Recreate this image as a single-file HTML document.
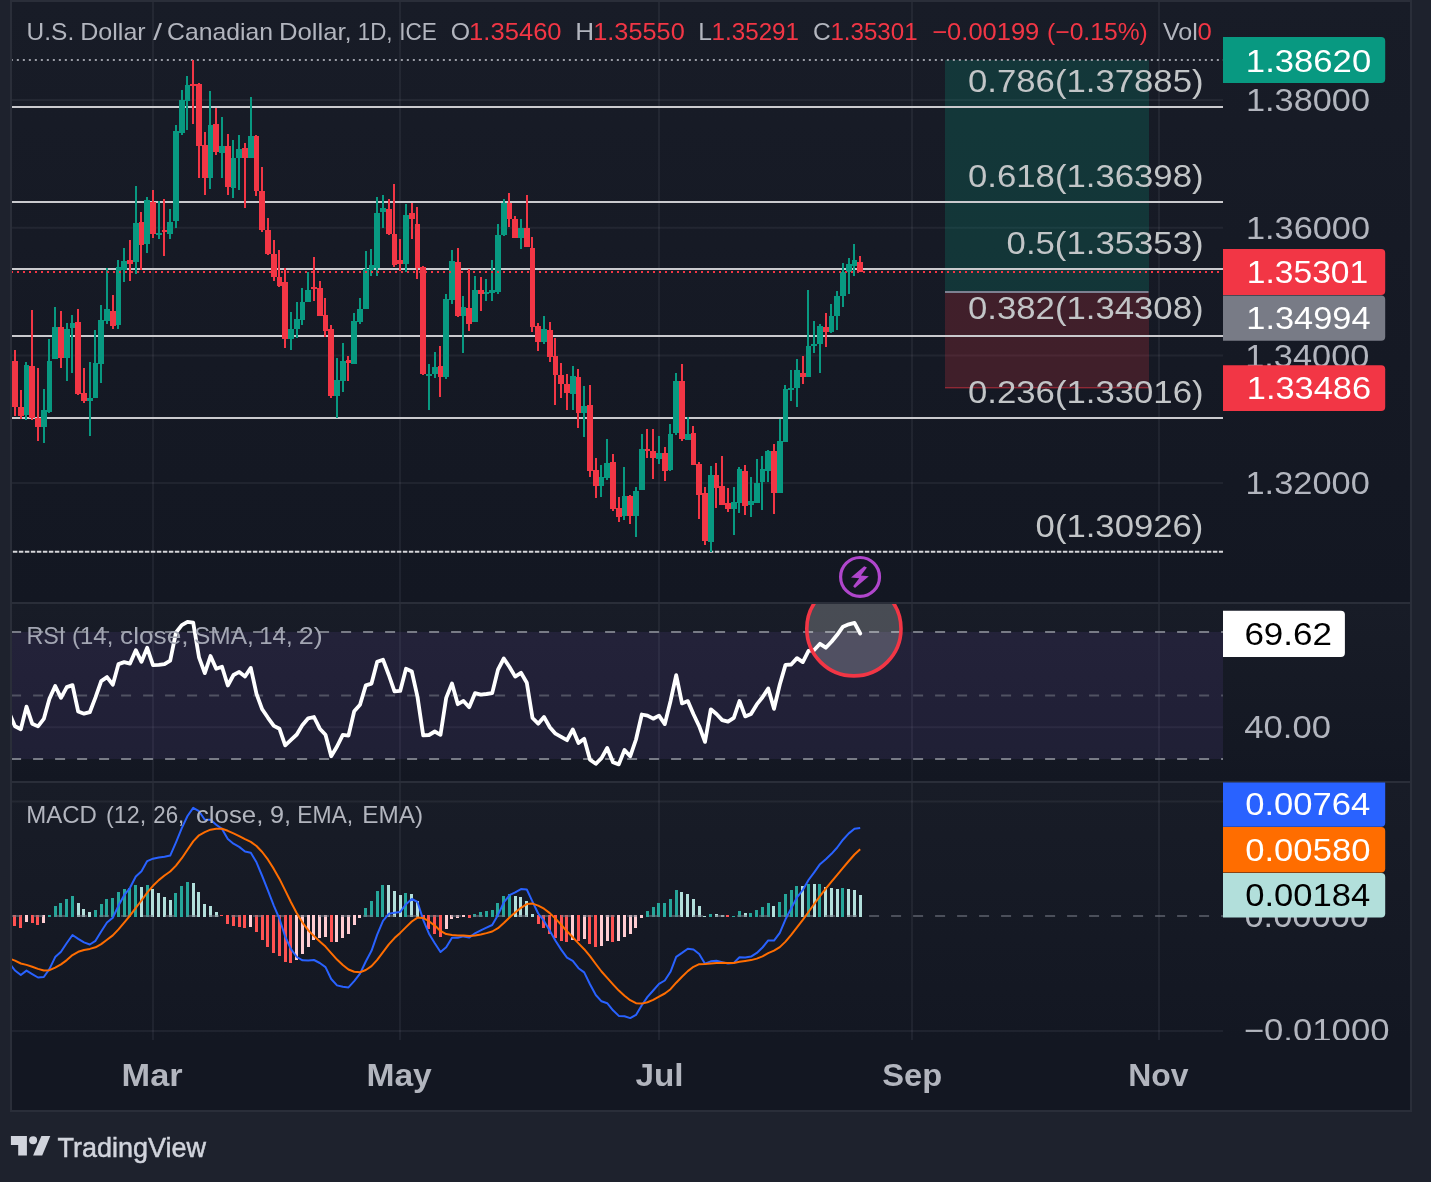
<!DOCTYPE html>
<html lang="en"><head><meta charset="utf-8"><title>USDCAD chart</title>
<style>html,body{margin:0;padding:0;background:#1e222d;}body{width:1431px;height:1182px;overflow:hidden;font-family:"Liberation Sans",sans-serif;}svg{display:block}</style>
</head><body>
<svg width="1431" height="1182" viewBox="0 0 1431 1182" font-family="Liberation Sans, sans-serif" style="will-change:transform">
<defs>
<clipPath id="cpP"><rect x="12" y="2" width="1211" height="600"/></clipPath>
<clipPath id="cpR"><rect x="12" y="604" width="1211" height="177"/></clipPath>
<clipPath id="cpM"><rect x="12" y="783" width="1211" height="257"/></clipPath>
<clipPath id="cpMA"><rect x="1223" y="783" width="187" height="257"/></clipPath>
<linearGradient id="gP" gradientUnits="userSpaceOnUse" x1="0" y1="2" x2="0" y2="602"><stop offset="0" stop-color="#181c27"/><stop offset="1" stop-color="#131722"/></linearGradient>
<linearGradient id="gR" gradientUnits="userSpaceOnUse" x1="0" y1="604" x2="0" y2="781"><stop offset="0" stop-color="#181c27"/><stop offset="1" stop-color="#131722"/></linearGradient>
<linearGradient id="gM" gradientUnits="userSpaceOnUse" x1="0" y1="783" x2="0" y2="1040"><stop offset="0" stop-color="#181c27"/><stop offset="1" stop-color="#131722"/></linearGradient>
</defs>
<rect width="1431" height="1182" fill="#1e222d"/>
<rect x="10" y="0" width="1402" height="1112" fill="#2a2e39"/>
<rect x="12" y="2" width="1398" height="1108" fill="#131722"/>
<rect x="12" y="2" width="1398" height="600" fill="url(#gP)"/>
<rect x="12" y="604" width="1398" height="177" fill="url(#gR)"/>
<rect x="12" y="783" width="1398" height="257" fill="url(#gM)"/>
<g stroke="#f0f3fa" stroke-opacity="0.06" stroke-width="2">
<line x1="153" y1="2" x2="153" y2="1040"/>
<line x1="400" y1="2" x2="400" y2="1040"/>
<line x1="659" y1="2" x2="659" y2="1040"/>
<line x1="912" y1="2" x2="912" y2="1040"/>
<line x1="1159" y1="2" x2="1159" y2="1040"/>
<line x1="12" y1="100" x2="1223" y2="100"/>
<line x1="12" y1="227.7" x2="1223" y2="227.7"/>
<line x1="12" y1="355.5" x2="1223" y2="355.5"/>
<line x1="12" y1="483" x2="1223" y2="483"/>
<line x1="12" y1="727.3" x2="1223" y2="727.3"/>
<line x1="12" y1="801.5" x2="1223" y2="801.5"/>
<line x1="12" y1="1031" x2="1223" y2="1031"/>
</g>
<rect x="12" y="602" width="1398" height="2" fill="#2a2e39"/>
<rect x="12" y="781" width="1398" height="2" fill="#2a2e39"/>
<g clip-path="url(#cpP)">
<rect x="945" y="60" width="204" height="231.8" fill="#089981" fill-opacity="0.22"/>
<rect x="945" y="291.8" width="204" height="96.2" fill="#f23645" fill-opacity="0.2"/>
<rect x="945" y="291" width="203.5" height="2" fill="#7d8091"/>
<rect x="945" y="387.2" width="204" height="1.2" fill="#f23645" fill-opacity="0.55"/>
<rect x="12" y="106" width="1211" height="2" fill="#cacace"/>
<rect x="12" y="201" width="1211" height="2" fill="#cacace"/>
<rect x="12" y="268" width="1211" height="2" fill="#cacace"/>
<rect x="12" y="335" width="1211" height="2" fill="#cacace"/>
<rect x="12" y="417" width="1211" height="2" fill="#cacace"/>
<line x1="12" y1="60" x2="1223" y2="60" stroke="#9a9da6" stroke-width="2" stroke-dasharray="2 4" stroke-dashoffset="1.15"/>
<line x1="12" y1="551.7" x2="1223" y2="551.7" stroke="#d6d6da" stroke-width="2" stroke-dasharray="4.5 1.5" stroke-dashoffset="-0.84"/>
<rect x="14" y="350" width="2" height="66" fill="#f23645"/><rect x="12" y="361" width="6" height="46" fill="#f23645"/>
<rect x="20" y="390" width="2" height="29" fill="#f23645"/><rect x="18" y="407" width="6" height="9" fill="#f23645"/>
<rect x="25" y="362" width="2" height="58" fill="#089981"/><rect x="24" y="365" width="5" height="50" fill="#089981"/>
<rect x="31" y="310" width="2" height="110" fill="#f23645"/><rect x="29" y="366" width="6" height="52" fill="#f23645"/>
<rect x="37" y="368" width="2" height="73" fill="#f23645"/><rect x="35" y="418" width="6" height="9" fill="#f23645"/>
<rect x="43" y="389" width="2" height="54" fill="#089981"/><rect x="41" y="410" width="6" height="17" fill="#089981"/>
<rect x="48" y="339" width="2" height="74" fill="#089981"/><rect x="47" y="361" width="5" height="51" fill="#089981"/>
<rect x="54" y="307" width="2" height="52" fill="#089981"/><rect x="52" y="327" width="6" height="32" fill="#089981"/>
<rect x="60" y="311" width="2" height="57" fill="#f23645"/><rect x="58" y="327" width="6" height="31" fill="#f23645"/>
<rect x="66" y="323" width="2" height="58" fill="#089981"/><rect x="64" y="329" width="6" height="29" fill="#089981"/>
<rect x="71" y="315" width="2" height="58" fill="#089981"/><rect x="70" y="323" width="5" height="5" fill="#089981"/>
<rect x="77" y="309" width="2" height="86" fill="#f23645"/><rect x="75" y="322" width="6" height="72" fill="#f23645"/>
<rect x="83" y="368" width="2" height="35" fill="#f23645"/><rect x="81" y="393" width="6" height="8" fill="#f23645"/>
<rect x="89" y="362" width="2" height="74" fill="#089981"/><rect x="87" y="398" width="6" height="3" fill="#089981"/>
<rect x="94" y="330" width="2" height="68" fill="#089981"/><rect x="93" y="363" width="5" height="35" fill="#089981"/>
<rect x="100" y="305" width="2" height="78" fill="#089981"/><rect x="98" y="320" width="6" height="44" fill="#089981"/>
<rect x="106" y="268" width="2" height="56" fill="#089981"/><rect x="104" y="309" width="6" height="12" fill="#089981"/>
<rect x="112" y="295" width="2" height="34" fill="#f23645"/><rect x="110" y="311" width="6" height="15" fill="#f23645"/>
<rect x="117" y="260" width="2" height="69" fill="#089981"/><rect x="116" y="267" width="5" height="58" fill="#089981"/>
<rect x="123" y="248" width="2" height="34" fill="#089981"/><rect x="121" y="261" width="6" height="9" fill="#089981"/>
<rect x="129" y="240" width="2" height="41" fill="#f23645"/><rect x="127" y="260" width="6" height="4" fill="#f23645"/>
<rect x="135" y="186" width="2" height="88" fill="#089981"/><rect x="133" y="223" width="6" height="39" fill="#089981"/>
<rect x="140" y="212" width="2" height="58" fill="#f23645"/><rect x="139" y="222" width="5" height="23" fill="#f23645"/>
<rect x="146" y="197" width="2" height="56" fill="#089981"/><rect x="144" y="200" width="6" height="44" fill="#089981"/>
<rect x="152" y="190" width="2" height="48" fill="#f23645"/><rect x="150" y="202" width="6" height="32" fill="#f23645"/>
<rect x="158" y="201" width="2" height="38" fill="#089981"/><rect x="156" y="233" width="6" height="2" fill="#089981"/>
<rect x="163" y="199" width="2" height="57" fill="#f23645"/><rect x="162" y="230" width="5" height="2" fill="#f23645"/>
<rect x="169" y="209" width="2" height="30" fill="#089981"/><rect x="167" y="222" width="6" height="12" fill="#089981"/>
<rect x="175" y="125" width="2" height="103" fill="#089981"/><rect x="173" y="131" width="6" height="90" fill="#089981"/>
<rect x="181" y="90" width="2" height="45" fill="#089981"/><rect x="179" y="100" width="6" height="33" fill="#089981"/>
<rect x="186" y="76" width="2" height="54" fill="#089981"/><rect x="185" y="85" width="5" height="16" fill="#089981"/>
<rect x="192" y="60" width="2" height="64" fill="#f23645"/><rect x="190" y="84" width="6" height="2" fill="#f23645"/>
<rect x="198" y="83" width="2" height="95" fill="#f23645"/><rect x="196" y="84" width="6" height="62" fill="#f23645"/>
<rect x="204" y="132" width="2" height="63" fill="#f23645"/><rect x="202" y="145" width="6" height="33" fill="#f23645"/>
<rect x="209" y="91" width="2" height="98" fill="#089981"/><rect x="208" y="125" width="5" height="53" fill="#089981"/>
<rect x="215" y="108" width="2" height="47" fill="#f23645"/><rect x="213" y="124" width="6" height="28" fill="#f23645"/>
<rect x="221" y="117" width="2" height="61" fill="#089981"/><rect x="219" y="146" width="6" height="7" fill="#089981"/>
<rect x="227" y="134" width="2" height="61" fill="#f23645"/><rect x="225" y="146" width="6" height="41" fill="#f23645"/>
<rect x="232" y="140" width="2" height="58" fill="#089981"/><rect x="231" y="158" width="5" height="30" fill="#089981"/>
<rect x="238" y="135" width="2" height="55" fill="#089981"/><rect x="236" y="149" width="6" height="9" fill="#089981"/>
<rect x="244" y="143" width="2" height="65" fill="#f23645"/><rect x="242" y="148" width="6" height="10" fill="#f23645"/>
<rect x="250" y="97" width="2" height="61" fill="#089981"/><rect x="248" y="136" width="6" height="22" fill="#089981"/>
<rect x="255" y="135" width="2" height="61" fill="#f23645"/><rect x="254" y="136" width="5" height="55" fill="#f23645"/>
<rect x="261" y="167" width="2" height="65" fill="#f23645"/><rect x="259" y="191" width="6" height="39" fill="#f23645"/>
<rect x="267" y="218" width="2" height="37" fill="#f23645"/><rect x="265" y="230" width="6" height="24" fill="#f23645"/>
<rect x="273" y="240" width="2" height="41" fill="#f23645"/><rect x="271" y="254" width="6" height="23" fill="#f23645"/>
<rect x="278" y="250" width="2" height="37" fill="#f23645"/><rect x="277" y="277" width="5" height="9" fill="#f23645"/>
<rect x="284" y="268" width="2" height="80" fill="#f23645"/><rect x="282" y="282" width="6" height="57" fill="#f23645"/>
<rect x="290" y="312" width="2" height="38" fill="#089981"/><rect x="288" y="329" width="6" height="10" fill="#089981"/>
<rect x="296" y="302" width="2" height="36" fill="#089981"/><rect x="294" y="319" width="6" height="10" fill="#089981"/>
<rect x="301" y="288" width="2" height="37" fill="#089981"/><rect x="300" y="302" width="5" height="18" fill="#089981"/>
<rect x="307" y="272" width="2" height="30" fill="#089981"/><rect x="305" y="290" width="6" height="12" fill="#089981"/>
<rect x="313" y="257" width="2" height="44" fill="#f23645"/><rect x="311" y="287" width="6" height="2" fill="#f23645"/>
<rect x="319" y="281" width="2" height="35" fill="#f23645"/><rect x="317" y="288" width="6" height="28" fill="#f23645"/>
<rect x="324" y="298" width="2" height="39" fill="#f23645"/><rect x="323" y="315" width="5" height="16" fill="#f23645"/>
<rect x="330" y="325" width="2" height="73" fill="#f23645"/><rect x="328" y="329" width="6" height="67" fill="#f23645"/>
<rect x="336" y="358" width="2" height="60" fill="#089981"/><rect x="334" y="380" width="6" height="16" fill="#089981"/>
<rect x="342" y="343" width="2" height="49" fill="#089981"/><rect x="340" y="361" width="6" height="20" fill="#089981"/>
<rect x="347" y="356" width="2" height="25" fill="#f23645"/><rect x="346" y="360" width="5" height="3" fill="#f23645"/>
<rect x="353" y="313" width="2" height="51" fill="#089981"/><rect x="351" y="321" width="6" height="43" fill="#089981"/>
<rect x="359" y="298" width="2" height="26" fill="#089981"/><rect x="357" y="309" width="6" height="13" fill="#089981"/>
<rect x="365" y="251" width="2" height="58" fill="#089981"/><rect x="363" y="269" width="6" height="40" fill="#089981"/>
<rect x="370" y="249" width="2" height="27" fill="#089981"/><rect x="369" y="265" width="5" height="5" fill="#089981"/>
<rect x="376" y="197" width="2" height="79" fill="#089981"/><rect x="374" y="213" width="6" height="55" fill="#089981"/>
<rect x="382" y="195" width="2" height="33" fill="#089981"/><rect x="380" y="208" width="6" height="4" fill="#089981"/>
<rect x="388" y="199" width="2" height="36" fill="#f23645"/><rect x="386" y="209" width="6" height="25" fill="#f23645"/>
<rect x="393" y="184" width="2" height="83" fill="#f23645"/><rect x="392" y="234" width="5" height="31" fill="#f23645"/>
<rect x="399" y="239" width="2" height="32" fill="#f23645"/><rect x="397" y="260" width="6" height="4" fill="#f23645"/>
<rect x="405" y="204" width="2" height="68" fill="#089981"/><rect x="403" y="215" width="6" height="49" fill="#089981"/>
<rect x="411" y="203" width="2" height="36" fill="#f23645"/><rect x="409" y="213" width="6" height="6" fill="#f23645"/>
<rect x="416" y="207" width="2" height="72" fill="#f23645"/><rect x="415" y="224" width="5" height="44" fill="#f23645"/>
<rect x="422" y="266" width="2" height="109" fill="#f23645"/><rect x="420" y="267" width="6" height="107" fill="#f23645"/>
<rect x="428" y="364" width="2" height="46" fill="#089981"/><rect x="426" y="374" width="6" height="2" fill="#089981"/>
<rect x="434" y="352" width="2" height="26" fill="#089981"/><rect x="432" y="367" width="6" height="7" fill="#089981"/>
<rect x="439" y="346" width="2" height="51" fill="#f23645"/><rect x="438" y="366" width="5" height="11" fill="#f23645"/>
<rect x="445" y="294" width="2" height="85" fill="#089981"/><rect x="443" y="299" width="6" height="78" fill="#089981"/>
<rect x="451" y="250" width="2" height="54" fill="#089981"/><rect x="449" y="261" width="6" height="39" fill="#089981"/>
<rect x="457" y="248" width="2" height="69" fill="#f23645"/><rect x="455" y="262" width="6" height="54" fill="#f23645"/>
<rect x="462" y="296" width="2" height="57" fill="#089981"/><rect x="461" y="307" width="5" height="9" fill="#089981"/>
<rect x="468" y="269" width="2" height="62" fill="#f23645"/><rect x="466" y="308" width="6" height="16" fill="#f23645"/>
<rect x="474" y="276" width="2" height="46" fill="#089981"/><rect x="472" y="290" width="6" height="32" fill="#089981"/>
<rect x="480" y="277" width="2" height="34" fill="#f23645"/><rect x="478" y="290" width="6" height="4" fill="#f23645"/>
<rect x="485" y="279" width="2" height="22" fill="#089981"/><rect x="484" y="292" width="5" height="2" fill="#089981"/>
<rect x="491" y="260" width="2" height="41" fill="#089981"/><rect x="489" y="290" width="6" height="3" fill="#089981"/>
<rect x="497" y="224" width="2" height="70" fill="#089981"/><rect x="495" y="235" width="6" height="57" fill="#089981"/>
<rect x="503" y="199" width="2" height="37" fill="#089981"/><rect x="501" y="203" width="6" height="32" fill="#089981"/>
<rect x="508" y="193" width="2" height="34" fill="#f23645"/><rect x="507" y="203" width="5" height="16" fill="#f23645"/>
<rect x="514" y="216" width="2" height="22" fill="#f23645"/><rect x="512" y="219" width="6" height="19" fill="#f23645"/>
<rect x="520" y="219" width="2" height="30" fill="#089981"/><rect x="518" y="228" width="6" height="10" fill="#089981"/>
<rect x="526" y="195" width="2" height="52" fill="#f23645"/><rect x="524" y="228" width="6" height="19" fill="#f23645"/>
<rect x="531" y="237" width="2" height="95" fill="#f23645"/><rect x="530" y="248" width="5" height="79" fill="#f23645"/>
<rect x="537" y="323" width="2" height="28" fill="#f23645"/><rect x="535" y="326" width="6" height="16" fill="#f23645"/>
<rect x="543" y="316" width="2" height="28" fill="#089981"/><rect x="541" y="329" width="6" height="13" fill="#089981"/>
<rect x="549" y="322" width="2" height="40" fill="#f23645"/><rect x="547" y="330" width="6" height="27" fill="#f23645"/>
<rect x="554" y="338" width="2" height="67" fill="#f23645"/><rect x="553" y="356" width="5" height="19" fill="#f23645"/>
<rect x="560" y="363" width="2" height="35" fill="#f23645"/><rect x="558" y="375" width="6" height="9" fill="#f23645"/>
<rect x="566" y="374" width="2" height="36" fill="#f23645"/><rect x="564" y="384" width="6" height="9" fill="#f23645"/>
<rect x="572" y="366" width="2" height="44" fill="#089981"/><rect x="570" y="376" width="6" height="18" fill="#089981"/>
<rect x="577" y="369" width="2" height="59" fill="#f23645"/><rect x="576" y="377" width="5" height="36" fill="#f23645"/>
<rect x="583" y="386" width="2" height="51" fill="#089981"/><rect x="581" y="406" width="6" height="7" fill="#089981"/>
<rect x="589" y="385" width="2" height="92" fill="#f23645"/><rect x="587" y="405" width="6" height="66" fill="#f23645"/>
<rect x="595" y="458" width="2" height="40" fill="#f23645"/><rect x="593" y="470" width="6" height="16" fill="#f23645"/>
<rect x="600" y="465" width="2" height="32" fill="#089981"/><rect x="599" y="477" width="5" height="9" fill="#089981"/>
<rect x="606" y="439" width="2" height="41" fill="#089981"/><rect x="604" y="463" width="6" height="15" fill="#089981"/>
<rect x="612" y="454" width="2" height="57" fill="#f23645"/><rect x="610" y="462" width="6" height="47" fill="#f23645"/>
<rect x="618" y="497" width="2" height="25" fill="#f23645"/><rect x="616" y="508" width="6" height="9" fill="#f23645"/>
<rect x="623" y="467" width="2" height="53" fill="#089981"/><rect x="622" y="496" width="5" height="20" fill="#089981"/>
<rect x="629" y="495" width="2" height="29" fill="#f23645"/><rect x="627" y="496" width="6" height="20" fill="#f23645"/>
<rect x="635" y="487" width="2" height="50" fill="#089981"/><rect x="633" y="491" width="6" height="25" fill="#089981"/>
<rect x="641" y="434" width="2" height="56" fill="#089981"/><rect x="639" y="449" width="6" height="41" fill="#089981"/>
<rect x="646" y="429" width="2" height="29" fill="#f23645"/><rect x="645" y="449" width="5" height="2" fill="#f23645"/>
<rect x="652" y="429" width="2" height="50" fill="#f23645"/><rect x="650" y="451" width="6" height="7" fill="#f23645"/>
<rect x="658" y="436" width="2" height="28" fill="#089981"/><rect x="656" y="453" width="6" height="6" fill="#089981"/>
<rect x="664" y="447" width="2" height="34" fill="#f23645"/><rect x="662" y="453" width="6" height="18" fill="#f23645"/>
<rect x="669" y="424" width="2" height="47" fill="#089981"/><rect x="668" y="434" width="5" height="36" fill="#089981"/>
<rect x="675" y="373" width="2" height="62" fill="#089981"/><rect x="673" y="381" width="6" height="52" fill="#089981"/>
<rect x="681" y="364" width="2" height="77" fill="#f23645"/><rect x="679" y="381" width="6" height="58" fill="#f23645"/>
<rect x="687" y="417" width="2" height="23" fill="#089981"/><rect x="685" y="434" width="6" height="6" fill="#089981"/>
<rect x="692" y="426" width="2" height="39" fill="#f23645"/><rect x="691" y="433" width="5" height="32" fill="#f23645"/>
<rect x="698" y="462" width="2" height="57" fill="#f23645"/><rect x="696" y="464" width="6" height="31" fill="#f23645"/>
<rect x="704" y="487" width="2" height="58" fill="#f23645"/><rect x="702" y="493" width="6" height="48" fill="#f23645"/>
<rect x="710" y="466" width="2" height="86" fill="#089981"/><rect x="708" y="475" width="6" height="67" fill="#089981"/>
<rect x="715" y="463" width="2" height="45" fill="#f23645"/><rect x="714" y="475" width="5" height="13" fill="#f23645"/>
<rect x="721" y="456" width="2" height="49" fill="#f23645"/><rect x="719" y="486" width="6" height="19" fill="#f23645"/>
<rect x="727" y="488" width="2" height="24" fill="#f23645"/><rect x="725" y="503" width="6" height="6" fill="#f23645"/>
<rect x="733" y="487" width="2" height="48" fill="#089981"/><rect x="731" y="502" width="6" height="7" fill="#089981"/>
<rect x="738" y="467" width="2" height="46" fill="#089981"/><rect x="737" y="469" width="5" height="34" fill="#089981"/>
<rect x="744" y="465" width="2" height="50" fill="#f23645"/><rect x="742" y="471" width="6" height="35" fill="#f23645"/>
<rect x="750" y="477" width="2" height="40" fill="#089981"/><rect x="748" y="501" width="6" height="4" fill="#089981"/>
<rect x="756" y="459" width="2" height="44" fill="#089981"/><rect x="754" y="483" width="6" height="20" fill="#089981"/>
<rect x="761" y="456" width="2" height="54" fill="#089981"/><rect x="760" y="469" width="5" height="13" fill="#089981"/>
<rect x="767" y="450" width="2" height="32" fill="#089981"/><rect x="765" y="451" width="6" height="20" fill="#089981"/>
<rect x="773" y="444" width="2" height="70" fill="#f23645"/><rect x="771" y="451" width="6" height="42" fill="#f23645"/>
<rect x="779" y="419" width="2" height="74" fill="#089981"/><rect x="777" y="441" width="6" height="52" fill="#089981"/>
<rect x="784" y="385" width="2" height="57" fill="#089981"/><rect x="783" y="389" width="5" height="53" fill="#089981"/>
<rect x="790" y="370" width="2" height="31" fill="#089981"/><rect x="788" y="388" width="6" height="2" fill="#089981"/>
<rect x="796" y="359" width="2" height="48" fill="#089981"/><rect x="794" y="370" width="6" height="18" fill="#089981"/>
<rect x="802" y="356" width="2" height="28" fill="#f23645"/><rect x="800" y="373" width="6" height="4" fill="#f23645"/>
<rect x="807" y="290" width="2" height="87" fill="#089981"/><rect x="806" y="346" width="5" height="31" fill="#089981"/>
<rect x="813" y="321" width="2" height="32" fill="#089981"/><rect x="811" y="344" width="6" height="2" fill="#089981"/>
<rect x="819" y="324" width="2" height="49" fill="#089981"/><rect x="817" y="326" width="6" height="18" fill="#089981"/>
<rect x="825" y="313" width="2" height="34" fill="#f23645"/><rect x="823" y="327" width="6" height="5" fill="#f23645"/>
<rect x="830" y="304" width="2" height="29" fill="#089981"/><rect x="829" y="316" width="5" height="16" fill="#089981"/>
<rect x="836" y="291" width="2" height="39" fill="#089981"/><rect x="834" y="296" width="6" height="20" fill="#089981"/>
<rect x="842" y="263" width="2" height="44" fill="#089981"/><rect x="840" y="272" width="6" height="24" fill="#089981"/>
<rect x="848" y="258" width="2" height="36" fill="#089981"/><rect x="846" y="264" width="6" height="8" fill="#089981"/>
<rect x="853" y="244" width="2" height="32" fill="#089981"/><rect x="852" y="260" width="5" height="6" fill="#089981"/>
<rect x="859" y="256" width="2" height="16" fill="#f23645"/><rect x="857" y="262" width="6" height="10" fill="#f23645"/>
<line x1="12" y1="272" x2="1223" y2="272" stroke="#f23645" stroke-width="2" stroke-dasharray="2 4" stroke-dashoffset="1"/>
<text x="968.0" y="92.3" font-size="31" fill="#c2c5c7" textLength="235.51" lengthAdjust="spacingAndGlyphs">0.786(1.37885)</text>
<text x="968.0" y="187.1" font-size="31" fill="#c2c5c7" textLength="235.51" lengthAdjust="spacingAndGlyphs">0.618(1.36398)</text>
<text x="1006.6" y="253.8" font-size="31" fill="#c2c5c7" textLength="196.93" lengthAdjust="spacingAndGlyphs">0.5(1.35353)</text>
<text x="968.0" y="319.2" font-size="31" fill="#c2c5c7" textLength="235.51" lengthAdjust="spacingAndGlyphs">0.382(1.34308)</text>
<text x="968.0" y="403" font-size="31" fill="#c2c5c7" textLength="235.51" lengthAdjust="spacingAndGlyphs">0.236(1.33016)</text>
<text x="1035.6" y="537.1" font-size="31" fill="#c2c5c7" textLength="167.81" lengthAdjust="spacingAndGlyphs">0(1.30926)</text>
<circle cx="860.05" cy="576.95" r="19.45" fill="none" stroke="#b046cc" stroke-width="3.2"/>
<polygon fill="#b046cc" points="864.20,566.15 866.95,567.55 860.90,575.45 868.85,576.20 854.95,588.05 853.15,586.35 859.20,578.30 851.00,577.45"/>
</g>
<g clip-path="url(#cpR)">
<rect x="12" y="631.9" width="1211" height="127.1" fill="#7e57c2" fill-opacity="0.12"/>
<line x1="12" y1="631.9" x2="1223" y2="631.9" stroke="#787b86" stroke-width="2" stroke-dasharray="10 12" stroke-dashoffset="0.9"/>
<line x1="12" y1="695.5" x2="1223" y2="695.5" stroke="#787b86" stroke-width="2" stroke-opacity="0.55" stroke-dasharray="10 12" stroke-dashoffset="0.9"/>
<line x1="12" y1="759.0" x2="1223" y2="759.0" stroke="#787b86" stroke-width="2" stroke-dasharray="10 12" stroke-dashoffset="0.9"/>
</g>
<g clip-path="url(#cpR)">
<polyline points="9.2,712.9 15.0,726.3 20.8,729.2 26.5,706.6 32.2,723.7 38.0,726.4 43.8,718.9 49.5,698.6 55.2,686.0 61.0,697.8 66.8,687.1 72.5,685.1 78.2,711.5 84.0,713.7 89.8,712.2 95.5,697.4 101.2,681.1 107.0,677.1 112.8,684.7 118.5,664.1 124.2,662.1 130.0,663.6 135.8,650.2 141.5,661.8 147.2,647.8 153.0,665.2 158.8,664.9 164.5,664.2 170.2,660.7 176.0,632.5 181.8,625.1 187.5,621.8 193.2,622.6 199.0,657.3 204.8,673.1 210.5,656.0 216.2,668.8 222.0,666.8 227.8,685.5 233.5,675.0 239.2,671.9 245.0,676.5 250.8,667.9 256.5,693.9 262.2,709.3 268.0,717.8 273.8,725.9 279.5,728.8 285.2,745.4 291.0,739.9 296.8,734.5 302.5,724.9 308.2,718.3 314.0,717.0 319.8,728.7 325.5,734.8 331.2,756.2 337.0,746.5 342.8,734.9 348.5,735.6 354.2,711.2 360.0,704.7 365.8,685.4 371.5,683.6 377.2,661.8 383.0,659.7 388.8,675.0 394.5,691.4 400.2,690.9 406.0,668.8 411.8,671.5 417.5,696.9 423.2,735.4 429.0,735.0 434.8,731.5 440.5,734.8 446.2,697.9 452.0,683.4 457.8,704.2 463.5,700.9 469.2,707.2 475.0,693.2 480.8,694.7 486.5,694.0 492.2,693.1 498.0,669.6 503.8,658.5 509.5,667.0 515.2,676.6 521.0,672.8 526.8,682.8 532.5,718.0 538.2,723.7 544.0,716.9 549.8,727.2 555.5,733.7 561.2,736.8 567.0,740.2 572.8,729.5 578.5,743.1 584.2,738.8 590.0,759.7 595.8,763.8 601.5,758.1 607.2,748.0 613.0,762.2 618.8,764.4 624.5,749.9 630.2,756.3 636.0,739.5 641.8,714.5 647.5,715.6 653.2,718.7 659.0,715.6 664.8,724.1 670.5,701.2 676.2,675.2 682.0,703.4 687.8,701.1 693.5,714.3 699.2,726.2 705.0,741.9 710.8,709.3 716.5,714.0 722.2,720.1 728.0,721.7 733.8,717.9 739.5,701.0 745.2,716.4 751.0,714.0 756.8,704.4 762.5,697.3 768.2,688.4 774.0,708.8 779.8,684.5 785.5,664.9 791.2,664.5 797.0,658.1 802.8,662.1 808.5,650.9 814.2,650.0 820.0,643.8 825.8,647.7 831.5,641.8 837.2,634.8 843.0,626.7 848.8,624.3 854.5,622.9 860.2,633.5" fill="none" stroke="#fff" stroke-width="3.8" stroke-linejoin="round" stroke-linecap="round"/>
<circle cx="853.9" cy="628.8" r="47.1" fill="#fff" fill-opacity="0.21" stroke="#f23645" stroke-width="3.6"/>
</g>
<g clip-path="url(#cpM)">
<rect x="13" y="915" width="3" height="11" fill="#ff5252"/>
<rect x="19" y="915" width="3" height="13" fill="#ff5252"/>
<rect x="25" y="915" width="3" height="7" fill="#ffcdd2"/>
<rect x="31" y="915" width="3" height="8" fill="#ff5252"/>
<rect x="36" y="915" width="3" height="10" fill="#ff5252"/>
<rect x="42" y="915" width="3" height="8" fill="#ffcdd2"/>
<rect x="48" y="915" width="3" height="2" fill="#26a69a"/>
<rect x="54" y="906" width="3" height="11" fill="#26a69a"/>
<rect x="59" y="903" width="3" height="14" fill="#26a69a"/>
<rect x="65" y="899" width="3" height="18" fill="#26a69a"/>
<rect x="71" y="896" width="3" height="21" fill="#26a69a"/>
<rect x="77" y="903" width="3" height="14" fill="#b2dfdb"/>
<rect x="82" y="909" width="3" height="8" fill="#b2dfdb"/>
<rect x="88" y="912" width="3" height="5" fill="#b2dfdb"/>
<rect x="94" y="910" width="3" height="7" fill="#26a69a"/>
<rect x="100" y="904" width="3" height="13" fill="#26a69a"/>
<rect x="105" y="899" width="3" height="18" fill="#26a69a"/>
<rect x="111" y="898" width="3" height="19" fill="#26a69a"/>
<rect x="117" y="892" width="3" height="25" fill="#26a69a"/>
<rect x="123" y="889" width="3" height="28" fill="#26a69a"/>
<rect x="128" y="888" width="3" height="29" fill="#26a69a"/>
<rect x="134" y="885" width="3" height="32" fill="#26a69a"/>
<rect x="140" y="887" width="3" height="30" fill="#b2dfdb"/>
<rect x="146" y="885" width="3" height="32" fill="#26a69a"/>
<rect x="151" y="889" width="3" height="28" fill="#b2dfdb"/>
<rect x="157" y="893" width="3" height="24" fill="#b2dfdb"/>
<rect x="163" y="897" width="3" height="20" fill="#b2dfdb"/>
<rect x="169" y="900" width="3" height="17" fill="#b2dfdb"/>
<rect x="174" y="893" width="3" height="24" fill="#26a69a"/>
<rect x="180" y="886" width="3" height="31" fill="#26a69a"/>
<rect x="186" y="882" width="3" height="35" fill="#26a69a"/>
<rect x="192" y="883" width="3" height="34" fill="#b2dfdb"/>
<rect x="197" y="892" width="3" height="25" fill="#b2dfdb"/>
<rect x="203" y="904" width="3" height="13" fill="#b2dfdb"/>
<rect x="209" y="906" width="3" height="11" fill="#b2dfdb"/>
<rect x="215" y="912" width="3" height="5" fill="#b2dfdb"/>
<rect x="220" y="915" width="3" height="1" fill="#ff5252"/>
<rect x="226" y="915" width="3" height="9" fill="#ff5252"/>
<rect x="232" y="915" width="3" height="11" fill="#ff5252"/>
<rect x="238" y="915" width="3" height="12" fill="#ff5252"/>
<rect x="243" y="915" width="3" height="13" fill="#ff5252"/>
<rect x="249" y="915" width="3" height="12" fill="#ffcdd2"/>
<rect x="255" y="915" width="3" height="17" fill="#ff5252"/>
<rect x="261" y="915" width="3" height="25" fill="#ff5252"/>
<rect x="266" y="915" width="3" height="32" fill="#ff5252"/>
<rect x="272" y="915" width="3" height="38" fill="#ff5252"/>
<rect x="278" y="915" width="3" height="41" fill="#ff5252"/>
<rect x="284" y="915" width="3" height="47" fill="#ff5252"/>
<rect x="289" y="915" width="3" height="48" fill="#ff5252"/>
<rect x="295" y="915" width="3" height="45" fill="#ffcdd2"/>
<rect x="301" y="915" width="3" height="39" fill="#ffcdd2"/>
<rect x="307" y="915" width="3" height="32" fill="#ffcdd2"/>
<rect x="312" y="915" width="3" height="25" fill="#ffcdd2"/>
<rect x="318" y="915" width="3" height="23" fill="#ffcdd2"/>
<rect x="324" y="915" width="3" height="22" fill="#ffcdd2"/>
<rect x="330" y="915" width="3" height="27" fill="#ff5252"/>
<rect x="335" y="915" width="3" height="27" fill="#ffcdd2"/>
<rect x="341" y="915" width="3" height="23" fill="#ffcdd2"/>
<rect x="347" y="915" width="3" height="19" fill="#ffcdd2"/>
<rect x="353" y="915" width="3" height="10" fill="#ffcdd2"/>
<rect x="358" y="915" width="3" height="3" fill="#ffcdd2"/>
<rect x="364" y="908" width="3" height="9" fill="#26a69a"/>
<rect x="370" y="901" width="3" height="16" fill="#26a69a"/>
<rect x="376" y="891" width="3" height="26" fill="#26a69a"/>
<rect x="381" y="885" width="3" height="32" fill="#26a69a"/>
<rect x="387" y="885" width="3" height="32" fill="#b2dfdb"/>
<rect x="393" y="891" width="3" height="26" fill="#b2dfdb"/>
<rect x="399" y="895" width="3" height="22" fill="#b2dfdb"/>
<rect x="404" y="893" width="3" height="24" fill="#26a69a"/>
<rect x="410" y="894" width="3" height="23" fill="#b2dfdb"/>
<rect x="416" y="901" width="3" height="16" fill="#b2dfdb"/>
<rect x="422" y="915" width="3" height="3" fill="#ff5252"/>
<rect x="427" y="915" width="3" height="14" fill="#ff5252"/>
<rect x="433" y="915" width="3" height="19" fill="#ff5252"/>
<rect x="439" y="915" width="3" height="22" fill="#ff5252"/>
<rect x="445" y="915" width="3" height="14" fill="#ffcdd2"/>
<rect x="450" y="915" width="3" height="4" fill="#ffcdd2"/>
<rect x="456" y="915" width="3" height="3" fill="#ffcdd2"/>
<rect x="462" y="915" width="3" height="2" fill="#ffcdd2"/>
<rect x="468" y="915" width="3" height="3" fill="#ff5252"/>
<rect x="473" y="914" width="3" height="3" fill="#26a69a"/>
<rect x="479" y="912" width="3" height="5" fill="#26a69a"/>
<rect x="485" y="911" width="3" height="6" fill="#26a69a"/>
<rect x="491" y="910" width="3" height="7" fill="#26a69a"/>
<rect x="496" y="903" width="3" height="14" fill="#26a69a"/>
<rect x="502" y="896" width="3" height="21" fill="#26a69a"/>
<rect x="508" y="894" width="3" height="23" fill="#26a69a"/>
<rect x="514" y="896" width="3" height="21" fill="#b2dfdb"/>
<rect x="519" y="897" width="3" height="20" fill="#b2dfdb"/>
<rect x="525" y="901" width="3" height="16" fill="#b2dfdb"/>
<rect x="531" y="914" width="3" height="3" fill="#b2dfdb"/>
<rect x="537" y="915" width="3" height="9" fill="#ff5252"/>
<rect x="542" y="915" width="3" height="13" fill="#ff5252"/>
<rect x="548" y="915" width="3" height="19" fill="#ff5252"/>
<rect x="554" y="915" width="3" height="23" fill="#ff5252"/>
<rect x="560" y="915" width="3" height="26" fill="#ff5252"/>
<rect x="565" y="915" width="3" height="27" fill="#ff5252"/>
<rect x="571" y="915" width="3" height="25" fill="#ffcdd2"/>
<rect x="577" y="915" width="3" height="26" fill="#ff5252"/>
<rect x="583" y="915" width="3" height="24" fill="#ffcdd2"/>
<rect x="588" y="915" width="3" height="29" fill="#ff5252"/>
<rect x="594" y="915" width="3" height="32" fill="#ff5252"/>
<rect x="600" y="915" width="3" height="31" fill="#ffcdd2"/>
<rect x="606" y="915" width="3" height="26" fill="#ffcdd2"/>
<rect x="611" y="915" width="3" height="27" fill="#ff5252"/>
<rect x="617" y="915" width="3" height="26" fill="#ffcdd2"/>
<rect x="623" y="915" width="3" height="22" fill="#ffcdd2"/>
<rect x="629" y="915" width="3" height="19" fill="#ffcdd2"/>
<rect x="634" y="915" width="3" height="13" fill="#ffcdd2"/>
<rect x="640" y="915" width="3" height="3" fill="#ffcdd2"/>
<rect x="646" y="911" width="3" height="6" fill="#26a69a"/>
<rect x="652" y="907" width="3" height="10" fill="#26a69a"/>
<rect x="657" y="903" width="3" height="14" fill="#26a69a"/>
<rect x="663" y="903" width="3" height="14" fill="#26a69a"/>
<rect x="669" y="899" width="3" height="18" fill="#26a69a"/>
<rect x="675" y="890" width="3" height="27" fill="#26a69a"/>
<rect x="680" y="892" width="3" height="25" fill="#b2dfdb"/>
<rect x="686" y="894" width="3" height="23" fill="#b2dfdb"/>
<rect x="692" y="899" width="3" height="18" fill="#b2dfdb"/>
<rect x="698" y="906" width="3" height="11" fill="#b2dfdb"/>
<rect x="703" y="916" width="3" height="1" fill="#b2dfdb"/>
<rect x="709" y="914" width="3" height="3" fill="#26a69a"/>
<rect x="715" y="914" width="3" height="3" fill="#b2dfdb"/>
<rect x="721" y="915" width="3" height="2" fill="#b2dfdb"/>
<rect x="726" y="915" width="3" height="2" fill="#ff5252"/>
<rect x="732" y="916" width="3" height="1" fill="#26a69a"/>
<rect x="738" y="911" width="3" height="6" fill="#26a69a"/>
<rect x="744" y="913" width="3" height="4" fill="#b2dfdb"/>
<rect x="749" y="913" width="3" height="4" fill="#26a69a"/>
<rect x="755" y="910" width="3" height="7" fill="#26a69a"/>
<rect x="761" y="907" width="3" height="10" fill="#26a69a"/>
<rect x="767" y="903" width="3" height="14" fill="#26a69a"/>
<rect x="772" y="906" width="3" height="11" fill="#b2dfdb"/>
<rect x="778" y="902" width="3" height="15" fill="#26a69a"/>
<rect x="784" y="894" width="3" height="23" fill="#26a69a"/>
<rect x="790" y="890" width="3" height="27" fill="#26a69a"/>
<rect x="795" y="886" width="3" height="31" fill="#26a69a"/>
<rect x="801" y="886" width="3" height="31" fill="#b2dfdb"/>
<rect x="807" y="884" width="3" height="33" fill="#26a69a"/>
<rect x="813" y="884" width="3" height="33" fill="#b2dfdb"/>
<rect x="818" y="884" width="3" height="33" fill="#26a69a"/>
<rect x="824" y="887" width="3" height="30" fill="#b2dfdb"/>
<rect x="830" y="888" width="3" height="29" fill="#b2dfdb"/>
<rect x="836" y="889" width="3" height="28" fill="#b2dfdb"/>
<rect x="841" y="888" width="3" height="29" fill="#26a69a"/>
<rect x="847" y="889" width="3" height="28" fill="#b2dfdb"/>
<rect x="853" y="890" width="3" height="27" fill="#b2dfdb"/>
<rect x="859" y="895" width="3" height="22" fill="#b2dfdb"/>
<line x1="12" y1="916" x2="1223" y2="916" stroke="#787b86" stroke-opacity="0.55" stroke-width="2" stroke-dasharray="10 12" stroke-dashoffset="0.9"/>
<polyline points="9.2,963.2 15.0,970.5 20.8,975.0 26.5,970.6 32.2,974.1 38.0,977.5 43.8,977.0 49.5,968.9 55.2,957.1 61.0,951.8 66.8,943.0 72.5,935.0 78.2,938.8 84.0,942.4 89.8,944.5 95.5,940.8 101.2,931.5 107.0,922.5 112.8,917.7 118.5,905.6 124.2,895.2 130.0,887.8 135.8,876.5 141.5,871.2 147.2,861.1 153.0,858.7 158.8,857.4 164.5,856.7 170.2,855.6 176.0,842.3 181.8,828.2 187.5,816.0 193.2,807.9 199.0,811.2 204.8,819.7 210.5,819.7 216.2,824.8 222.0,828.9 227.8,839.0 233.5,843.7 239.2,846.9 245.0,851.5 250.8,852.7 256.5,862.3 262.2,876.0 268.0,890.6 273.8,905.6 279.5,918.8 285.2,936.8 291.0,949.1 296.8,957.0 302.5,960.3 308.2,960.6 314.0,960.0 319.8,963.0 325.5,967.1 331.2,979.0 337.0,985.4 342.8,986.8 348.5,987.4 354.2,981.1 360.0,973.6 365.8,961.5 371.5,950.8 377.2,934.6 383.0,920.8 388.8,913.8 394.5,912.8 400.2,912.0 406.0,904.2 411.8,898.9 417.5,902.0 423.2,919.9 429.0,933.7 434.8,943.3 440.5,952.0 446.2,947.2 452.0,937.7 457.8,937.8 463.5,936.4 469.2,937.6 475.0,933.3 480.8,930.3 486.5,927.6 492.2,925.0 498.0,914.9 503.8,902.5 509.5,895.2 515.2,892.4 521.0,889.1 526.8,889.5 532.5,901.6 538.2,913.5 544.0,920.9 549.8,930.7 555.5,940.7 561.2,949.6 567.0,957.6 572.8,960.9 578.5,968.2 584.2,972.4 590.0,984.3 595.8,995.0 601.5,1001.3 607.2,1003.2 613.0,1010.3 618.8,1015.9 624.5,1016.2 630.2,1018.1 636.0,1014.9 641.8,1005.2 647.5,996.9 653.2,990.5 659.0,983.9 664.8,980.5 670.5,971.8 676.2,956.8 682.0,952.9 687.8,948.8 693.5,949.5 699.2,954.0 705.0,963.7 710.8,961.3 716.5,960.8 722.2,962.2 728.0,963.5 733.8,962.9 739.5,957.2 745.2,957.5 751.0,956.6 756.8,952.9 762.5,947.5 768.2,940.4 774.0,940.6 779.8,932.9 785.5,919.3 791.2,908.4 797.0,897.4 802.8,890.0 808.5,880.0 814.2,872.3 820.0,864.2 825.8,859.3 831.5,853.8 837.2,847.5 843.0,839.7 848.8,833.4 854.5,828.8 860.2,828.0" fill="none" stroke="#2962ff" stroke-width="2" stroke-linejoin="round"/>
<polyline points="9.2,958.6 15.0,960.6 20.8,963.5 26.5,964.9 32.2,966.7 38.0,968.9 43.8,970.5 49.5,970.2 55.2,967.6 61.0,964.4 66.8,960.1 72.5,955.1 78.2,951.8 84.0,950.0 89.8,948.9 95.5,947.3 101.2,944.1 107.0,939.8 112.8,935.4 118.5,929.4 124.2,922.6 130.0,915.6 135.8,907.8 141.5,900.5 147.2,892.6 153.0,885.8 158.8,880.1 164.5,875.5 170.2,871.5 176.0,865.6 181.8,858.2 187.5,849.7 193.2,841.4 199.0,835.3 204.8,832.2 210.5,829.7 216.2,828.7 222.0,828.8 227.8,830.8 233.5,833.4 239.2,836.1 245.0,839.2 250.8,841.9 256.5,846.0 262.2,852.0 268.0,859.7 273.8,868.9 279.5,878.9 285.2,890.4 291.0,902.2 296.8,913.2 302.5,922.6 308.2,930.2 314.0,936.1 319.8,941.5 325.5,946.6 331.2,953.1 337.0,959.6 342.8,965.0 348.5,969.5 354.2,971.8 360.0,972.2 365.8,970.0 371.5,966.2 377.2,959.9 383.0,952.1 388.8,944.4 394.5,938.1 400.2,932.9 406.0,927.1 411.8,921.5 417.5,917.6 423.2,918.1 429.0,921.2 434.8,925.6 440.5,930.9 446.2,934.1 452.0,934.9 457.8,935.4 463.5,935.6 469.2,936.0 475.0,935.5 480.8,934.4 486.5,933.1 492.2,931.5 498.0,928.2 503.8,923.0 509.5,917.5 515.2,912.5 521.0,907.8 526.8,904.1 532.5,903.6 538.2,905.6 544.0,908.7 549.8,913.1 555.5,918.6 561.2,924.8 567.0,931.3 572.8,937.3 578.5,943.4 584.2,949.2 590.0,956.2 595.8,964.0 601.5,971.5 607.2,977.8 613.0,984.3 618.8,990.6 624.5,995.7 630.2,1000.2 636.0,1003.2 641.8,1003.6 647.5,1002.2 653.2,999.9 659.0,996.7 664.8,993.5 670.5,989.2 676.2,982.7 682.0,976.7 687.8,971.1 693.5,966.8 699.2,964.2 705.0,964.1 710.8,963.6 716.5,963.0 722.2,962.8 728.0,963.0 733.8,963.0 739.5,961.8 745.2,960.9 751.0,960.1 756.8,958.6 762.5,956.4 768.2,953.2 774.0,950.7 779.8,947.1 785.5,941.6 791.2,934.9 797.0,927.4 802.8,919.9 808.5,912.0 814.2,904.0 820.0,896.1 825.8,888.7 831.5,881.7 837.2,874.9 843.0,867.9 848.8,861.0 854.5,854.5 860.2,849.2" fill="none" stroke="#ff6d00" stroke-width="2" stroke-linejoin="round"/>
</g>
<text x="26.46" y="644.3" font-size="24" fill="#a3a6b3" textLength="38.83" lengthAdjust="spacingAndGlyphs">RSI</text>
<text x="72.11" y="644.3" font-size="24" fill="#a3a6b3" textLength="41.19" lengthAdjust="spacingAndGlyphs">(14,</text>
<text x="120.11" y="644.3" font-size="24" fill="#a3a6b3" textLength="68.39" lengthAdjust="spacingAndGlyphs">close,</text>
<text x="193.98" y="644.3" font-size="24" fill="#a3a6b3" textLength="59.84" lengthAdjust="spacingAndGlyphs">SMA,</text>
<text x="259.25" y="644.3" font-size="24" fill="#a3a6b3" textLength="33.36" lengthAdjust="spacingAndGlyphs">14,</text>
<text x="298.69" y="644.3" font-size="24" fill="#a3a6b3" textLength="23.99" lengthAdjust="spacingAndGlyphs">2)</text>
<text x="26.2" y="822.9" font-size="24" fill="#b2b5be" textLength="70.66" lengthAdjust="spacingAndGlyphs">MACD</text>
<text x="106.05" y="822.9" font-size="24" fill="#b2b5be" textLength="40.1" lengthAdjust="spacingAndGlyphs">(12,</text>
<text x="153.24" y="822.9" font-size="24" fill="#b2b5be" textLength="31.03" lengthAdjust="spacingAndGlyphs">26,</text>
<text x="195.92" y="822.9" font-size="24" fill="#b2b5be" textLength="67.44" lengthAdjust="spacingAndGlyphs">close,</text>
<text x="269.95" y="822.9" font-size="24" fill="#b2b5be" textLength="21.03" lengthAdjust="spacingAndGlyphs">9,</text>
<text x="297.19" y="822.9" font-size="24" fill="#b2b5be" textLength="55.98" lengthAdjust="spacingAndGlyphs">EMA,</text>
<text x="362.28" y="822.9" font-size="24" fill="#b2b5be" textLength="60.74" lengthAdjust="spacingAndGlyphs">EMA)</text>
<text x="26.62" y="40.3" font-size="24" fill="#b2b5be" textLength="47.6" lengthAdjust="spacingAndGlyphs">U.S.</text>
<text x="80.31" y="40.3" font-size="24" fill="#b2b5be" textLength="65.38" lengthAdjust="spacingAndGlyphs">Dollar</text>
<text x="153.3" y="40.3" font-size="24" fill="#b2b5be" textLength="8.79" lengthAdjust="spacingAndGlyphs">/</text>
<text x="167.11" y="40.3" font-size="24" fill="#b2b5be" textLength="105.94" lengthAdjust="spacingAndGlyphs">Canadian</text>
<text x="278.96" y="40.3" font-size="24" fill="#b2b5be" textLength="72.78" lengthAdjust="spacingAndGlyphs">Dollar,</text>
<text x="357.77" y="40.3" font-size="24" fill="#b2b5be" textLength="34.78" lengthAdjust="spacingAndGlyphs">1D,</text>
<text x="399.18" y="40.3" font-size="24" fill="#b2b5be" textLength="37.67" lengthAdjust="spacingAndGlyphs">ICE</text>
<text x="450.66" y="40.3" font-size="24" fill="#b2b5be" textLength="19.35" lengthAdjust="spacingAndGlyphs">O</text>
<text x="469.13" y="40.3" font-size="24" fill="#f23645" textLength="92.47" lengthAdjust="spacingAndGlyphs">1.35460</text>
<text x="575.32" y="40.3" font-size="24" fill="#b2b5be" textLength="18.87" lengthAdjust="spacingAndGlyphs">H</text>
<text x="593.25" y="40.3" font-size="24" fill="#f23645" textLength="91.54" lengthAdjust="spacingAndGlyphs">1.35550</text>
<text x="698.34" y="40.3" font-size="24" fill="#b2b5be" textLength="13.73" lengthAdjust="spacingAndGlyphs">L</text>
<text x="711.54" y="40.3" font-size="24" fill="#f23645" textLength="87.48" lengthAdjust="spacingAndGlyphs">1.35291</text>
<text x="813.02" y="40.3" font-size="24" fill="#b2b5be" textLength="17.73" lengthAdjust="spacingAndGlyphs">C</text>
<text x="830.44" y="40.3" font-size="24" fill="#f23645" textLength="87.17" lengthAdjust="spacingAndGlyphs">1.35301</text>
<text x="932.24" y="40.3" font-size="24" fill="#f23645" textLength="107.05" lengthAdjust="spacingAndGlyphs">−0.00199</text>
<text x="1047.06" y="40.3" font-size="24" fill="#f23645" textLength="100.73" lengthAdjust="spacingAndGlyphs">(−0.15%)</text>
<text x="1163.0" y="40.3" font-size="24" fill="#b2b5be" textLength="34.89" lengthAdjust="spacingAndGlyphs">Vol</text>
<text x="1197.6" y="40.3" font-size="24" fill="#f23645" textLength="14.31" lengthAdjust="spacingAndGlyphs">0</text>
<text x="1245.91" y="110.6" font-size="31" fill="#b2b5be" textLength="124.15" lengthAdjust="spacingAndGlyphs">1.38000</text>
<text x="1245.91" y="238.5" font-size="31" fill="#b2b5be" textLength="124.15" lengthAdjust="spacingAndGlyphs">1.36000</text>
<text x="1245.21" y="367.2" font-size="31" fill="#b2b5be" textLength="124.25" lengthAdjust="spacingAndGlyphs">1.34000</text>
<text x="1245.51" y="494.2" font-size="31" fill="#b2b5be" textLength="124.25" lengthAdjust="spacingAndGlyphs">1.32000</text>
<text x="1244.26" y="738.1" font-size="31" fill="#b2b5be" textLength="86.73" lengthAdjust="spacingAndGlyphs">40.00</text>
<g clip-path="url(#cpMA)">
<text x="1244.41" y="926.9" font-size="31" fill="#b2b5be" textLength="124.65" lengthAdjust="spacingAndGlyphs">0.00000</text>
</g>
<g clip-path="url(#cpMA)">
<text x="1243.82" y="1040.9" font-size="31" fill="#b2b5be" textLength="145.69" lengthAdjust="spacingAndGlyphs">−0.01000</text>
</g>
<path d="M1223 36.9H1381.2a4 4 0 0 1 4 4V78.9a4 4 0 0 1 -4 4H1223Z" fill="#089981"/>
<text x="1245.88" y="71.5" font-size="31" fill="#fff" textLength="125.29" lengthAdjust="spacingAndGlyphs">1.38620</text>
<path d="M1223 249.1H1381.2a4 4 0 0 1 4 4V291.1a4 4 0 0 1 -4 4H1223Z" fill="#f23645"/>
<text x="1246.86" y="283.4" font-size="31" fill="#fff" textLength="121.33" lengthAdjust="spacingAndGlyphs">1.35301</text>
<path d="M1223 295.6H1381.2a4 4 0 0 1 4 4V336.8a4 4 0 0 1 -4 4H1223Z" fill="#787b86"/>
<text x="1246.31" y="328.8" font-size="31" fill="#fff" textLength="124.2" lengthAdjust="spacingAndGlyphs">1.34994</text>
<path d="M1223 365.2H1381.2a4 4 0 0 1 4 4V406.9a4 4 0 0 1 -4 4H1223Z" fill="#f23645"/>
<text x="1246.81" y="399.1" font-size="31" fill="#fff" textLength="124.25" lengthAdjust="spacingAndGlyphs">1.33486</text>
<path d="M1223 610.8H1340.9a4 4 0 0 1 4 4V652.9a4 4 0 0 1 -4 4H1223Z" fill="#ffffff"/>
<text x="1244.41" y="644.9" font-size="31" fill="#000" textLength="87.58" lengthAdjust="spacingAndGlyphs">69.62</text>
<path d="M1223 782.6H1385.19a0.01 0.01 0 0 1 0.01 0.01V822.7a4 4 0 0 1 -4 4H1223Z" fill="#2962ff"/>
<text x="1245.2" y="814.6" font-size="31" fill="#fff" textLength="125.11" lengthAdjust="spacingAndGlyphs">0.00764</text>
<path d="M1223 827.1H1381.2a4 4 0 0 1 4 4V868.6a4 4 0 0 1 -4 4H1223Z" fill="#ff6d00"/>
<text x="1245.2" y="860.9" font-size="31" fill="#fff" textLength="125.27" lengthAdjust="spacingAndGlyphs">0.00580</text>
<path d="M1223 873H1381.2a4 4 0 0 1 4 4V913.6a4 4 0 0 1 -4 4H1223Z" fill="#b2dfdb"/>
<text x="1245.2" y="905.9" font-size="31" fill="#000" textLength="125.11" lengthAdjust="spacingAndGlyphs">0.00184</text>
<text x="121.58" y="1086.2" font-size="31" font-weight="bold" fill="#b2b5be" textLength="61.14" lengthAdjust="spacingAndGlyphs">Mar</text>
<text x="366.43" y="1086.2" font-size="31" font-weight="bold" fill="#b2b5be" textLength="65.4" lengthAdjust="spacingAndGlyphs">May</text>
<text x="635.46" y="1086.2" font-size="31" font-weight="bold" fill="#b2b5be" textLength="48.13" lengthAdjust="spacingAndGlyphs">Jul</text>
<text x="882.31" y="1086.2" font-size="31" font-weight="bold" fill="#b2b5be" textLength="59.85" lengthAdjust="spacingAndGlyphs">Sep</text>
<text x="1128.34" y="1086.2" font-size="31" font-weight="bold" fill="#b2b5be" textLength="60.28" lengthAdjust="spacingAndGlyphs">Nov</text>
<path fill="#d1d4dc" d="M10.9 1136H26.9V1155.4H18.2V1145H10.9Z"/>
<circle cx="33.1" cy="1140.3" r="4" fill="#d1d4dc"/>
<path fill="#d1d4dc" d="M41.4 1136H50.3L42.2 1155.4H33.1Z"/>
<text x="57.6" y="1156.7" font-size="27" fill="#d1d4dc" textLength="148.38" lengthAdjust="spacingAndGlyphs" stroke="#d1d4dc" stroke-width="0.5">TradingView</text>
</svg>
</body></html>
